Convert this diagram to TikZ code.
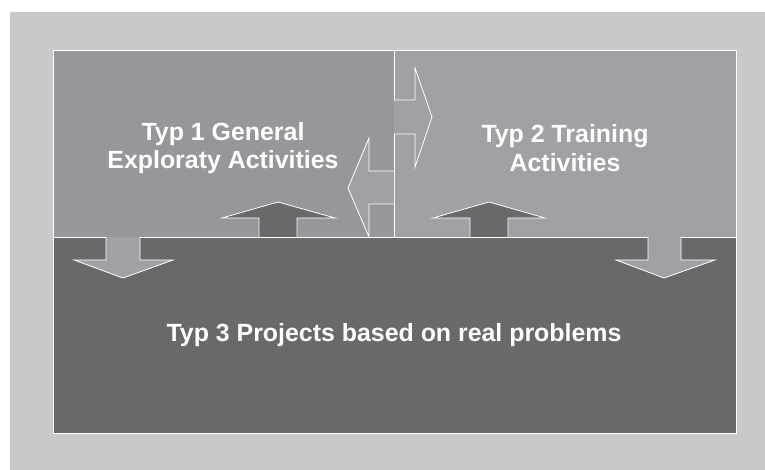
\documentclass[tikz,border=0pt]{standalone}
\usepackage{fontspec}
\setmainfont{Liberation Sans}
\usepackage{tikz}

\definecolor{framegray}{HTML}{C8C9CB}
\definecolor{leftgray}{HTML}{96979B}
\definecolor{rightgray}{HTML}{A0A1A5}
\definecolor{darkgray}{HTML}{68696B}

\begin{document}
\begin{tikzpicture}[x=1bp, y=-1bp, line width=0.8bp]
    \useasboundingbox (0,0) rectangle (765,470);
    \fill[framegray] (10,12) rectangle (765,470);

    % Boxes
    \fill[leftgray] (53,50) rectangle (394,237);
    \fill[rightgray] (394,50) rectangle (736,237);
    \fill[darkgray] (53,237) rectangle (736,433);
    \draw[white] (53,50) rectangle (736,433);
    \draw[white] (53,237) -- (736,237);
    \draw[white] (394,50) -- (394,237);

    % Arrows up
    \filldraw[fill=darkgray, draw=white] (259,237) -- (259,218) -- (222,218) -- (278,202) -- (335,218) -- (297,218) -- (297,237);
    \filldraw[fill=darkgray, draw=white] (470,237) -- (470,218) -- (433,218) -- (489,202) -- (545,218) -- (508,218) -- (508,237);

    % Arrows down
    \filldraw[fill=rightgray, draw=white] (106,237) -- (106,260) -- (74,260) -- (123,278) -- (173,260) -- (140,260) -- (140,237);
    \filldraw[fill=rightgray, draw=white] (648,237) -- (648,260) -- (616,260) -- (664,278) -- (715,260) -- (681,260) -- (681,237);

    % Arrow right
    \filldraw[fill=rightgray, draw=white] (394,100) -- (415,100) -- (415,68) -- (432,117) -- (415,167) -- (415,134) -- (394,134);

    % Arrow left
    \filldraw[fill=rightgray, draw=white] (394,171) -- (369,171) -- (369,138) -- (348,188) -- (369,237) -- (369,204) -- (394,204);

    % Labels
    \node[white, font=\bfseries\fontsize{25}{28.5}\selectfont, align=center] (typ1) at (223,148) {Typ 1 General\\Exploraty Activities};
    \node[white, font=\bfseries\fontsize{25}{28.5}\selectfont, align=center] (typ2) at (565,148) {Typ 2 Training\\Activities};
    \node[white, font=\bfseries\fontsize{25}{28.5}\selectfont, anchor=base] (typ3) at (394,342) {Typ 3 Projects based on real problems};
\end{tikzpicture}
\end{document}
